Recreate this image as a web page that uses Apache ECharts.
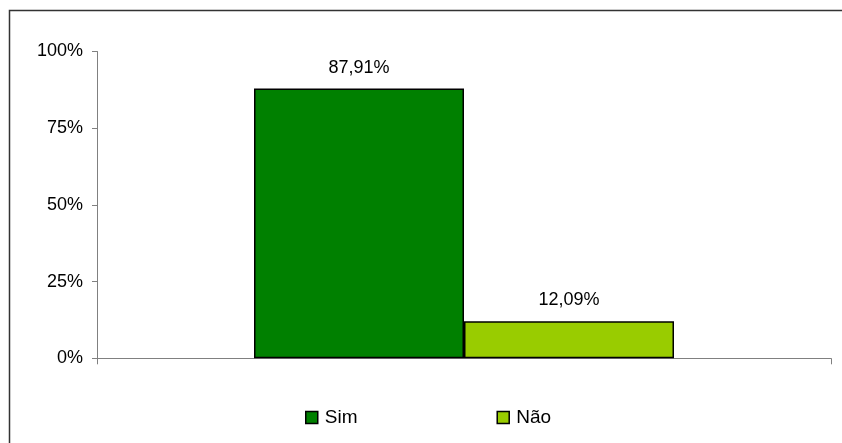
<!DOCTYPE html>
<html>
<head>
<meta charset="utf-8">
<script src="https://cdn.jsdelivr.net/npm/echarts@6/dist/echarts.min.js"></script>
<style>
  html, body { margin: 0; padding: 0; background: #fff; }
  #chart { width: 842px; height: 443px; }
</style>
</head>
<body>
<div id="chart"></div>
<script>
const categories = [""];
const series_names = ["Sim", "Não"];
const series_values = [87.91, 12.09];
const series_colors = ["#008000", "#99CC00"];
const y_ticks = [0, 25, 50, 75, 100];

const font = "'Liberation Sans', Arial, sans-serif";

// decimal comma like the original
function pct(v) {
  return v.toFixed(2).replace(".", ",") + "%";
}

const chart = echarts.init(document.getElementById("chart"), null, { renderer: "canvas" });

chart.setOption({
  animation: false,
  grid: { left: 97, right: 11, top: 51.5, bottom: 84.7 },
  legend: {
    data: series_names,
    left: 300, top: 403,
    itemWidth: 12, itemHeight: 12, itemGap: 139,
    icon: "rect",
    itemStyle: { borderColor: "#000", borderWidth: 1.5 },
    textStyle: { fontFamily: font, fontSize: 19, color: "#000", padding: [0, 0, 0, 2] }
  },
  xAxis: {
    type: "category",
    data: categories,
    axisLine: { lineStyle: { color: "#808080", width: 1 } },
    axisTick: { show: true, length: 6, lineStyle: { color: "#808080" } },
    axisLabel: { show: false },
    splitLine: { show: false }
  },
  yAxis: {
    type: "value",
    min: y_ticks[0], max: y_ticks[y_ticks.length - 1], interval: 25,
    axisLine: { show: true, lineStyle: { color: "#808080", width: 1 } },
    axisTick: { show: true, length: 5, lineStyle: { color: "#808080" } },
    axisLabel: { margin: 14, fontFamily: font, fontSize: 18, color: "#000", formatter: "{value}%" },
    splitLine: { show: false }
  },
  series: series_names.map((name, i) => ({
    name: name,
    type: "bar",
    data: [series_values[i]],
    barWidth: 210,
    barGap: "0%",
    itemStyle: { color: series_colors[i], borderColor: "#000", borderWidth: 1.5 },
    label: {
      show: true, position: "top", distance: 12,
      fontFamily: font, fontSize: 18, color: "#000",
      formatter: (p) => pct(p.value)
    }
  })),
  graphic: [{
    type: "rect",
    shape: { x: 9.5, y: 10.5, width: 900, height: 500 },
    style: { fill: "none", stroke: "#333", lineWidth: 1.5 },
    silent: true
  }]
});
</script>
</body>
</html>
